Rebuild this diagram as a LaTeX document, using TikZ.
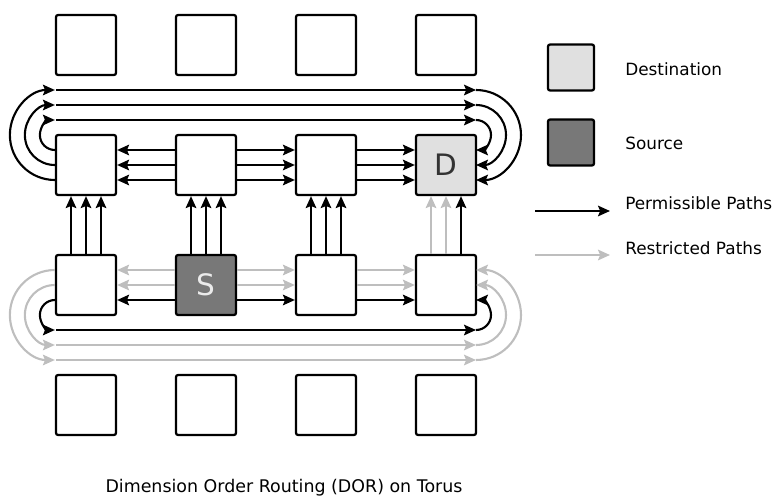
\documentclass[tikz,border=0pt]{standalone}
\usepackage{fontspec}
\setmainfont{DejaVu Sans}
\usetikzlibrary{arrows.meta}
\definecolor{destinationGray}{HTML}{E0E0E0}
\definecolor{sourceGray}{HTML}{787878}
\definecolor{restrictedGray}{HTML}{BEBEBE}
\definecolor{letterGray}{HTML}{333333}

\begin{document}
\begin{tikzpicture}[
  router/.style={shape=rectangle,draw=black,line width=1.6pt,rounded corners=1.5pt,minimum size=1.5cm,inner sep=0pt},
  destination/.style={router,fill=destinationGray,text=letterGray,font=\fontsize{21}{21}\selectfont},
  source/.style={router,fill=sourceGray,text=white!92!black,font=\fontsize{21}{21}\selectfont},
  swatch/.style={router,minimum size=1.15cm},
  legendText/.style={anchor=west,inner sep=0pt,font=\fontsize{12}{14}\selectfont},
  permissible/.style={draw=black,line width=1.5pt,-{Stealth[length=8.5pt,width=7.5pt,inset=1.5pt]}},
  restricted/.style={permissible,draw=restrictedGray}
]
  \useasboundingbox (-2.15,4.125) rectangle (17.275,-8.4);

  % torus routers
  \node[router] (routerA1) at (0,3) {};
  \node[router] (routerA2) at (3,3) {};
  \node[router] (routerA3) at (6,3) {};
  \node[router] (routerA4) at (9,3) {};
  \node[router] (routerB1) at (0,0) {};
  \node[router] (routerB2) at (3,0) {};
  \node[router] (routerB3) at (6,0) {};
  \node[destination] (routerB4) at (9,0) {D};
  \node[router] (routerC1) at (0,-3) {};
  \node[source] (routerC2) at (3,-3) {S};
  \node[router] (routerC3) at (6,-3) {};
  \node[router] (routerC4) at (9,-3) {};
  \node[router] (routerD1) at (0,-6) {};
  \node[router] (routerD2) at (3,-6) {};
  \node[router] (routerD3) at (6,-6) {};
  \node[router] (routerD4) at (9,-6) {};

  % ends of the wrap-around links
  \coordinate (topWrapOneWest) at (-0.75,1.125);
  \coordinate (topWrapOneEast) at (9.75,1.125);
  \coordinate (topWrapTwoWest) at (-0.75,1.5);
  \coordinate (topWrapTwoEast) at (9.75,1.5);
  \coordinate (topWrapThreeWest) at (-0.75,1.875);
  \coordinate (topWrapThreeEast) at (9.75,1.875);
  \coordinate (bottomWrapOneWest) at (-0.75,-4.125);
  \coordinate (bottomWrapOneEast) at (9.75,-4.125);
  \coordinate (bottomWrapTwoWest) at (-0.75,-4.5);
  \coordinate (bottomWrapTwoEast) at (9.75,-4.5);
  \coordinate (bottomWrapThreeWest) at (-0.75,-4.875);
  \coordinate (bottomWrapThreeEast) at (9.75,-4.875);

  % row of the destination
  \path ([yshift=0.375cm]routerB2.west) edge[permissible] ([yshift=0.375cm]routerB1.east);
  \path (routerB2.west) edge[permissible] (routerB1.east);
  \path ([yshift=-0.375cm]routerB2.west) edge[permissible] ([yshift=-0.375cm]routerB1.east);
  \path ([yshift=0.375cm]routerB2.east) edge[permissible] ([yshift=0.375cm]routerB3.west);
  \path (routerB2.east) edge[permissible] (routerB3.west);
  \path ([yshift=-0.375cm]routerB2.east) edge[permissible] ([yshift=-0.375cm]routerB3.west);
  \path ([yshift=0.375cm]routerB3.east) edge[permissible] ([yshift=0.375cm]routerB4.west);
  \path (routerB3.east) edge[permissible] (routerB4.west);
  \path ([yshift=-0.375cm]routerB3.east) edge[permissible] ([yshift=-0.375cm]routerB4.west);

  \draw [permissible] ([yshift=0.375cm]routerB1.west) arc[start angle=-90,end angle=-270,radius=0.375cm];
  \draw [permissible] (routerB1.west) arc[start angle=-90,end angle=-270,radius=0.75cm];
  \draw [permissible] ([yshift=-0.375cm]routerB1.west) arc[start angle=-90,end angle=-270,radius=1.125cm];
  \path (topWrapOneWest) edge[permissible] (topWrapOneEast);
  \path (topWrapTwoWest) edge[permissible] (topWrapTwoEast);
  \path (topWrapThreeWest) edge[permissible] (topWrapThreeEast);
  \draw [permissible] (topWrapOneEast) arc[start angle=90,end angle=-90,radius=0.375cm];
  \draw [permissible] (topWrapTwoEast) arc[start angle=90,end angle=-90,radius=0.75cm];
  \draw [permissible] (topWrapThreeEast) arc[start angle=90,end angle=-90,radius=1.125cm];

  % row of the source
  \path ([yshift=0.375cm]routerC2.west) edge[restricted] ([yshift=0.375cm]routerC1.east);
  \path (routerC2.west) edge[restricted] (routerC1.east);
  \path ([yshift=-0.375cm]routerC2.west) edge[permissible] ([yshift=-0.375cm]routerC1.east);
  \path ([yshift=0.375cm]routerC2.east) edge[restricted] ([yshift=0.375cm]routerC3.west);
  \path (routerC2.east) edge[restricted] (routerC3.west);
  \path ([yshift=-0.375cm]routerC2.east) edge[permissible] ([yshift=-0.375cm]routerC3.west);
  \path ([yshift=0.375cm]routerC3.east) edge[restricted] ([yshift=0.375cm]routerC4.west);
  \path (routerC3.east) edge[restricted] (routerC4.west);
  \path ([yshift=-0.375cm]routerC3.east) edge[permissible] ([yshift=-0.375cm]routerC4.west);

  \draw [permissible] ([yshift=-0.375cm]routerC1.west) arc[start angle=90,end angle=270,radius=0.375cm];
  \draw [restricted] (routerC1.west) arc[start angle=90,end angle=270,radius=0.75cm];
  \draw [restricted] ([yshift=0.375cm]routerC1.west) arc[start angle=90,end angle=270,radius=1.125cm];
  \path (bottomWrapOneWest) edge[permissible] (bottomWrapOneEast);
  \path (bottomWrapTwoWest) edge[restricted] (bottomWrapTwoEast);
  \path (bottomWrapThreeWest) edge[restricted] (bottomWrapThreeEast);
  \draw [permissible] (bottomWrapOneEast) arc[start angle=-90,end angle=90,radius=0.375cm];
  \draw [restricted] (bottomWrapTwoEast) arc[start angle=-90,end angle=90,radius=0.75cm];
  \draw [restricted] (bottomWrapThreeEast) arc[start angle=-90,end angle=90,radius=1.125cm];

  % up the columns
  \path ([xshift=-0.375cm]routerC1.north) edge[permissible] ([xshift=-0.375cm]routerB1.south);
  \path (routerC1.north) edge[permissible] (routerB1.south);
  \path ([xshift=0.375cm]routerC1.north) edge[permissible] ([xshift=0.375cm]routerB1.south);
  \path ([xshift=-0.375cm]routerC2.north) edge[permissible] ([xshift=-0.375cm]routerB2.south);
  \path (routerC2.north) edge[permissible] (routerB2.south);
  \path ([xshift=0.375cm]routerC2.north) edge[permissible] ([xshift=0.375cm]routerB2.south);
  \path ([xshift=-0.375cm]routerC3.north) edge[permissible] ([xshift=-0.375cm]routerB3.south);
  \path (routerC3.north) edge[permissible] (routerB3.south);
  \path ([xshift=0.375cm]routerC3.north) edge[permissible] ([xshift=0.375cm]routerB3.south);
  \path ([xshift=-0.375cm]routerC4.north) edge[restricted] ([xshift=-0.375cm]routerB4.south);
  \path (routerC4.north) edge[restricted] (routerB4.south);
  \path ([xshift=0.375cm]routerC4.north) edge[permissible] ([xshift=0.375cm]routerB4.south);

  % legend
  \node[swatch,fill=destinationGray] (destinationSwatch) at (12.125,2.4375) {};
  \node[legendText] (destinationLabel) at (13.475,2.4) {Destination};
  \node[swatch,fill=sourceGray] (sourceSwatch) at (12.125,0.5625) {};
  \node[legendText] (sourceLabel) at (13.475,0.53) {Source};
  \node[legendText] (permissibleLabel) at (13.475,-0.95) {Permissible Paths};
  \node[legendText] (restrictedLabel) at (13.475,-2.075) {Restricted Paths};
  \coordinate (permissibleStart) at (11.225,-1.15);
  \coordinate (permissibleEnd) at (13.1,-1.15);
  \coordinate (restrictedStart) at (11.225,-2.25);
  \coordinate (restrictedEnd) at (13.1,-2.25);
  \path (permissibleStart) edge[permissible] (permissibleEnd);
  \path (restrictedStart) edge[restricted] (restrictedEnd);

  \node[font=\fontsize{12.4}{14}\selectfont] (caption) at (4.95,-8.075) {Dimension Order Routing (DOR) on Torus};
\end{tikzpicture}
\end{document}
